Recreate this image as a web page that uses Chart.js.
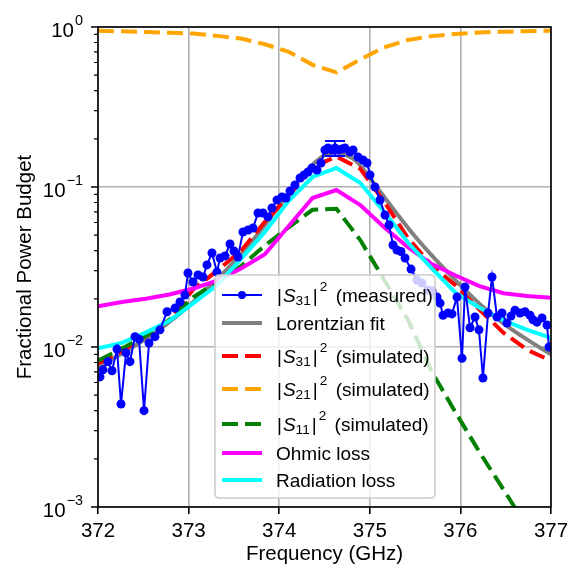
<!DOCTYPE html>
<html>
<head>
<meta charset="utf-8">
<script src="https://cdn.jsdelivr.net/npm/chart.js@4.4.1/dist/chart.umd.min.js"></script>
<style>
  html, body { margin: 0; padding: 0; background: #fff; }
</style>
</head>
<body>
<canvas id="chart" width="584" height="585"></canvas>
<script>
// measured |S31|^2
const measFreq = [
  372.022, 372.055, 372.110, 372.155, 372.210, 372.254, 372.309, 372.353, 372.408, 372.453,
  372.508, 372.563, 372.629, 372.684, 372.762, 372.850, 372.905, 372.960, 372.993, 373.049,
  373.104, 373.159, 373.203, 373.258, 373.313, 373.347, 373.402, 373.457, 373.501, 373.545,
  373.600, 373.656, 373.711, 373.766, 373.821, 373.876, 373.920, 373.976, 374.031, 374.075,
  374.119, 374.174, 374.230, 374.274, 374.318, 374.362, 374.417, 374.461, 374.505, 374.539,
  374.583, 374.616, 374.649, 374.693, 374.726, 374.781, 374.815, 374.870, 374.925, 374.969,
  375.002, 375.057, 375.113, 375.168, 375.212, 375.256, 375.300, 375.344, 375.389, 375.455,
  375.521, 375.576, 375.642, 375.687, 375.742, 375.775, 375.808, 375.863, 375.907, 375.962,
  376.018, 376.051, 376.106, 376.161, 376.205, 376.249, 376.305, 376.349, 376.404, 376.459,
  376.514, 376.558, 376.603, 376.658, 376.713, 376.768, 376.801, 376.845, 376.901, 376.956,
  376.978
];
const measValues = [
  0.0065, 0.0072, 0.0081, 0.0071, 0.0097, 0.0044, 0.0092, 0.0081, 0.0116, 0.0112,
  0.0040, 0.0106, 0.0116, 0.0128, 0.0166, 0.0175, 0.0191, 0.0211, 0.0290, 0.0255,
  0.0282, 0.0274, 0.0326, 0.0387, 0.0294, 0.0360, 0.0371, 0.0440, 0.0398, 0.0365,
  0.0523, 0.0539, 0.0554, 0.0688, 0.0688, 0.0650, 0.0739, 0.0830, 0.0866, 0.0854,
  0.0944, 0.1029, 0.1138, 0.1189, 0.1240, 0.1315, 0.1277, 0.1413, 0.1703, 0.1754,
  0.1703, 0.1754, 0.1703, 0.1728, 0.1754, 0.1655, 0.1703, 0.1540, 0.1476, 0.1413,
  0.1189, 0.1000, 0.0830, 0.0668, 0.0579, 0.0434, 0.0404, 0.0395, 0.0360, 0.0307,
  0.0262, 0.0251, 0.0227, 0.0224, 0.0205, 0.0188, 0.0158, 0.0163, 0.0161, 0.0205,
  0.0085, 0.0237, 0.0132, 0.0154, 0.0128, 0.0064, 0.0163, 0.0274, 0.0154, 0.0163,
  0.0141, 0.0156, 0.0170, 0.0163, 0.0166, 0.0158, 0.0148, 0.0143, 0.0152, 0.0137,
  0.0100
];
// single error bar on the peak point
const errFreq = 374.616;
const errValue = 0.175;
const errSize = 0.019;

// Lorentzian fit
const fitFreq = [
  372.0, 372.25, 372.5, 372.75, 373.0, 373.25, 373.5, 373.75, 374.0, 374.25,
  374.4, 374.5, 374.62, 374.75, 374.85, 375.0, 375.25, 375.5, 375.75, 376.0,
  376.25, 376.5, 376.75, 377.0
];
const fitValues = [
  0.0075, 0.0090, 0.0110, 0.0138, 0.0180, 0.0244, 0.0340, 0.0496, 0.0760, 0.116,
  0.1436, 0.158, 0.165, 0.157, 0.1455, 0.114, 0.074, 0.049, 0.034, 0.0243,
  0.0178, 0.0137, 0.0110, 0.0090
];

// simulation grid
const simFreq = [
  372.000, 372.263, 372.526, 372.789, 373.053, 373.316, 373.579, 373.842, 374.105, 374.368,
  374.632, 374.895, 375.158, 375.421, 375.684, 375.947, 376.211, 376.474, 376.737, 377.000
];
const s31Sim = [
  0.0079, 0.0094, 0.0117, 0.0147, 0.0230, 0.0300, 0.0400, 0.0606, 0.0880, 0.1330,
  0.1550, 0.1300, 0.0810, 0.0480, 0.0324, 0.0242, 0.0171, 0.0123, 0.0096, 0.0082
];
const s21Sim = [
  0.946, 0.940, 0.930, 0.920, 0.910, 0.880, 0.847, 0.780, 0.700, 0.580,
  0.520, 0.627, 0.745, 0.830, 0.877, 0.905, 0.925, 0.935, 0.942, 0.948
];
const s11Sim = [
  0.0082, 0.0098, 0.0117, 0.0148, 0.0205, 0.0255, 0.0320, 0.0430, 0.0560, 0.0720,
  0.0730, 0.0466, 0.0263, 0.0148, 0.0070, 0.0039, 0.0022, 0.00129, 0.00075, 0.00045
];
const ohmicLoss = [
  0.0180, 0.0191, 0.0200, 0.0213, 0.0232, 0.0260, 0.0310, 0.0380, 0.0570, 0.0853,
  0.0958, 0.0772, 0.0560, 0.0420, 0.0330, 0.0280, 0.0240, 0.0217, 0.0208, 0.0203
];
const radiationLoss = [
  0.0098, 0.0106, 0.0123, 0.0146, 0.0188, 0.0244, 0.0355, 0.0524, 0.0820, 0.1155,
  0.1315, 0.1060, 0.0700, 0.0450, 0.0310, 0.0218, 0.0176, 0.0147, 0.0128, 0.0114
];

const frequencyTicks = [372, 373, 374, 375, 376, 377];
const powerTicks = [0.001, 0.01, 0.1, 1];
const powerTickExponents = ['\u22123', '\u22122', '\u22121', '0'];

// legend texts: [text, kind]  kind: '' normal, 'it' italic, 'sub', 'sup'
const legendLabels = [
  [['|', ''], ['S', 'it'], ['31', 'sub'], ['|', ''], ['2', 'sup'], [' (measured)', '']],
  [['Lorentzian fit', '']],
  [['|', ''], ['S', 'it'], ['31', 'sub'], ['|', ''], ['2', 'sup'], [' (simulated)', '']],
  [['|', ''], ['S', 'it'], ['21', 'sub'], ['|', ''], ['2', 'sup'], [' (simulated)', '']],
  [['|', ''], ['S', 'it'], ['11', 'sub'], ['|', ''], ['2', 'sup'], [' (simulated)', '']],
  [['Ohmic loss', '']],
  [['Radiation loss', '']],
];

const FAMILY = "'Liberation Sans', Arial, Helvetica, sans-serif";
const TICK_SIZE = 20.5;
const LEGEND_SIZE = 19;
const DASH = [16, 7];

function pts(xs, ys) {
  return xs.map((x, i) => ({ x, y: ys[i] }));
}

function drawRich(ctx, parts, x, base, size) {
  const math = parts.length > 1;
  for (const [text, kind] of parts) {
    let fs = size;
    let dy = 0;
    let style = '';
    if (kind === 'it') { style = 'italic '; x += 1; }
    if (kind === 'sub') { fs = size * 0.72; dy = 3.5; }
    if (kind === 'sup') { fs = size * 0.72; dy = -11; x += 2; }
    if (math && kind === '' && text === '|') x += 1;
    ctx.font = style + fs + 'px ' + FAMILY;
    ctx.fillText(text, x, base + dy);
    x += ctx.measureText(text).width;
    if (kind === 'sup') x += 3;
    if (kind === 'sub') x += 1;
  }
}

const extrasPlugin = {
  id: 'extras',
  afterDatasetsDraw(chart) {
    const { ctx, chartArea: ca, scales: { x: xs, y: ys } } = chart;
    ctx.save();

    // error bar
    const ex = xs.getPixelForValue(errFreq);
    const eTop = ys.getPixelForValue(errValue + errSize);
    const eBot = ys.getPixelForValue(errValue - errSize);
    ctx.strokeStyle = '#0000ff';
    ctx.lineWidth = 2;
    ctx.beginPath();
    ctx.moveTo(ex, eTop); ctx.lineTo(ex, eBot);
    ctx.moveTo(ex - 10, eTop); ctx.lineTo(ex + 10, eTop);
    ctx.moveTo(ex - 10, eBot); ctx.lineTo(ex + 10, eBot);
    ctx.stroke();

    // frame
    ctx.strokeStyle = '#000';
    ctx.lineWidth = 1.6;
    ctx.strokeRect(ca.left, ca.top, ca.right - ca.left, ca.bottom - ca.top);

    // y ticks (major + minor)
    ctx.beginPath();
    for (const v of powerTicks) {
      const y = ys.getPixelForValue(v);
      ctx.moveTo(ca.left, y); ctx.lineTo(ca.left - 7, y);
    }
    ctx.stroke();
    ctx.lineWidth = 1.2;
    ctx.beginPath();
    for (let e = -3; e < 0; e++) {
      for (let m = 2; m <= 9; m++) {
        const y = ys.getPixelForValue(m * Math.pow(10, e));
        ctx.moveTo(ca.left, y); ctx.lineTo(ca.left - 4, y);
      }
    }
    ctx.stroke();

    // y tick labels 10^n
    ctx.fillStyle = '#000';
    ctx.textAlign = 'left';
    ctx.textBaseline = 'alphabetic';
    powerTicks.forEach((v, i) => {
      const y = ys.getPixelForValue(v);
      const small = (TICK_SIZE * 0.7) + 'px ' + FAMILY;
      const big = TICK_SIZE + 'px ' + FAMILY;
      ctx.font = small;
      const expW = ctx.measureText(powerTickExponents[i]).width;
      ctx.font = big;
      const baseW = ctx.measureText('10').width;
      const right = ca.left - 15;
      ctx.fillText('10', right - expW - baseW - 1, y + 9.7);
      ctx.font = small;
      ctx.fillText(powerTickExponents[i], right - expW, y - 2);
    });

    // legend
    const lx = ca.left + 117;
    const lw = 220;
    const lbot = ca.bottom - 9;
    const ltop = lbot - 223;
    ctx.fillStyle = 'rgba(255,255,255,0.8)';
    ctx.strokeStyle = '#cccccc';
    ctx.lineWidth = 1.6;
    ctx.beginPath();
    ctx.roundRect(lx, ltop, lw, lbot - ltop, 4);
    ctx.fill();
    ctx.stroke();

    const rowY = [20, 48, 81, 114, 149, 178, 205];
    chart.data.datasets.forEach((ds, i) => {
      const y = ltop + rowY[i];
      ctx.strokeStyle = ds.borderColor;
      ctx.lineWidth = ds.borderWidth;
      ctx.setLineDash(ds.borderDash || []);
      ctx.lineCap = 'butt';
      ctx.beginPath();
      ctx.moveTo(lx + 7, y); ctx.lineTo(lx + 47, y);
      ctx.stroke();
      ctx.setLineDash([]);
      if (ds.pointRadius > 0) {
        ctx.fillStyle = ds.pointBackgroundColor;
        ctx.beginPath();
        ctx.arc(lx + 27, y, 4, 0, Math.PI * 2);
        ctx.fill();
      }
      ctx.fillStyle = '#000';
      drawRich(ctx, legendLabels[i], lx + 61, y + 6.8, LEGEND_SIZE);
    });

    ctx.restore();
  }
};

Chart.defaults.font.family = FAMILY;
Chart.defaults.color = '#000';

new Chart(document.getElementById('chart'), {
  type: 'line',
  data: {
    datasets: [
      {
        label: '|S31|^2 (measured)',
        data: pts(measFreq, measValues),
        borderColor: '#0000ff',
        backgroundColor: '#0000ff',
        pointBackgroundColor: '#0000ff',
        borderWidth: 2,
        pointRadius: 4.5,
        pointBorderWidth: 0,
        order: 0,
      },
      {
        label: 'Lorentzian fit',
        data: pts(fitFreq, fitValues),
        borderColor: '#808080',
        borderWidth: 4,
        pointRadius: 0,
        cubicInterpolationMode: 'monotone',
        order: 6,
      },
      {
        label: '|S31|^2 (simulated)',
        data: pts(simFreq, s31Sim),
        borderColor: '#ff0000',
        borderWidth: 4,
        borderDash: DASH,
        pointRadius: 0,
        order: 5,
      },
      {
        label: '|S21|^2 (simulated)',
        data: pts(simFreq, s21Sim),
        borderColor: '#ffa500',
        borderWidth: 4,
        borderDash: DASH,
        pointRadius: 0,
        order: 4,
      },
      {
        label: '|S11|^2 (simulated)',
        data: pts(simFreq, s11Sim),
        borderColor: '#008000',
        borderWidth: 4,
        borderDash: DASH,
        pointRadius: 0,
        order: 3,
      },
      {
        label: 'Ohmic loss',
        data: pts(simFreq, ohmicLoss),
        borderColor: '#ff00ff',
        borderWidth: 4,
        pointRadius: 0,
        order: 2,
      },
      {
        label: 'Radiation loss',
        data: pts(simFreq, radiationLoss),
        borderColor: '#00ffff',
        borderWidth: 4,
        pointRadius: 0,
        order: 1,
      },
    ],
  },
  options: {
    responsive: false,
    animation: false,
    clip: 0,
    layout: { padding: { top: 27, right: 33, bottom: 0, left: 0 } },
    plugins: {
      legend: { display: false },
      tooltip: { enabled: false },
    },
    scales: {
      x: {
        type: 'linear',
        min: 372,
        max: 377,
        afterBuildTicks: (s) => { s.ticks = frequencyTicks.map((v) => ({ value: v })); },
        afterFit: (s) => { s.height = 78; },
        ticks: {
          color: '#000',
          font: { size: TICK_SIZE },
          padding: 5,
          maxRotation: 0,
        },
        grid: {
          color: '#b0b0b0',
          lineWidth: 1.6,
          drawTicks: true,
          tickLength: 7,
          tickColor: '#000',
          tickWidth: 1.6,
        },
        border: { display: false },
        title: {
          display: true,
          text: 'Frequency (GHz)',
          color: '#000',
          font: { size: TICK_SIZE },
          padding: { top: 0, bottom: 18 },
        },
      },
      y: {
        type: 'logarithmic',
        min: 0.001,
        max: 1,
        afterFit: (s) => { s.width = 98; },
        ticks: { display: false },
        grid: {
          drawTicks: false,
          lineWidth: 1.6,
          color: (c) => {
            const e = Math.log10(c.tick.value);
            return Math.abs(e - Math.round(e)) < 1e-6 ? '#b0b0b0' : 'rgba(0,0,0,0)';
          },
        },
        border: { display: false },
        title: {
          display: true,
          text: 'Fractional Power Budget',
          color: '#000',
          font: { size: TICK_SIZE },
          padding: { top: 13, bottom: 0 },
        },
      },
    },
  },
  plugins: [extrasPlugin],
});
</script>
</body>
</html>
